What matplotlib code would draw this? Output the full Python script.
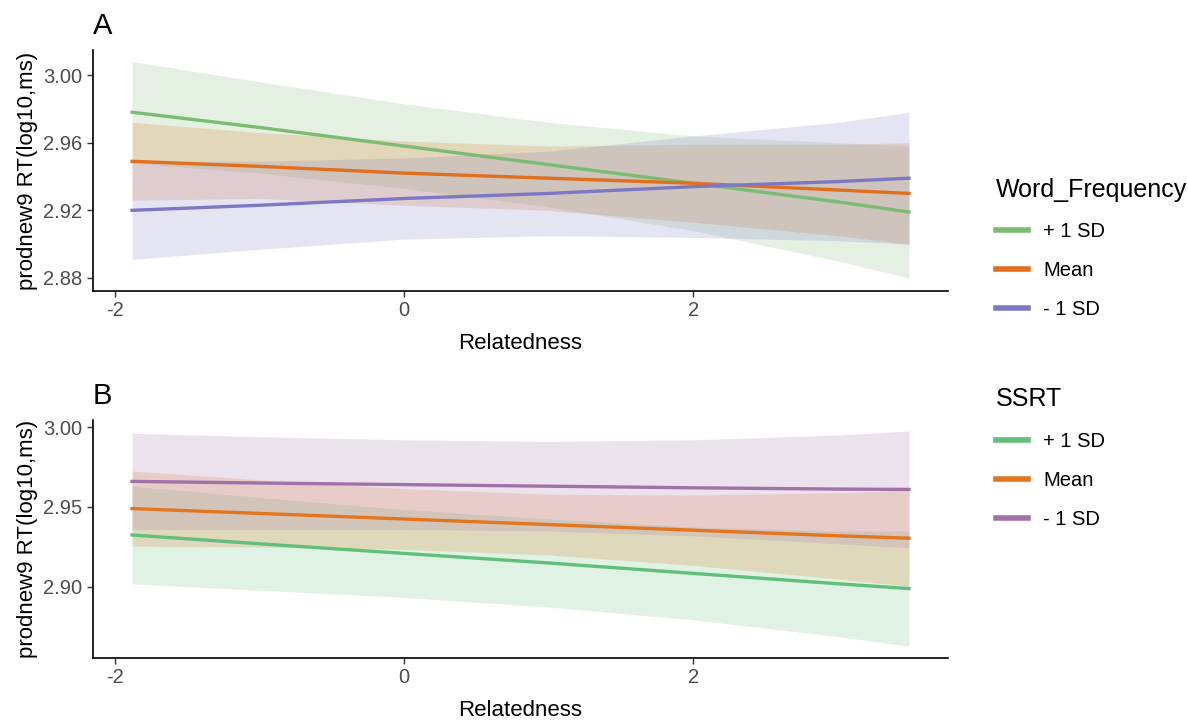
import matplotlib
matplotlib.use("Agg")
import matplotlib.pyplot as plt

plt.rcParams["font.family"] = ["Liberation Sans", "DejaVu Sans"]

# Relatedness values where the fitted lines are read
relatedness = [-1.88, -1, 0, 1, 2, 3, 3.49]
levels = ["+ 1 SD", "Mean", "- 1 SD"]

# Panel A: Word_Frequency
wf_fit = {
    "+ 1 SD": [2.978, 2.969, 2.958, 2.947, 2.936, 2.925, 2.919],
    "Mean": [2.949, 2.946, 2.942, 2.939, 2.936, 2.932, 2.930],
    "- 1 SD": [2.920, 2.923, 2.927, 2.930, 2.934, 2.937, 2.939],
}
wf_lo = {
    "+ 1 SD": [2.948, 2.942, 2.933, 2.922, 2.908, 2.890, 2.880],
    "Mean": [2.926, 2.927, 2.923, 2.920, 2.913, 2.905, 2.900],
    "- 1 SD": [2.891, 2.897, 2.903, 2.905, 2.904, 2.902, 2.900],
}
wf_hi = {
    "+ 1 SD": [3.008, 2.996, 2.983, 2.972, 2.964, 2.960, 2.958],
    "Mean": [2.972, 2.966, 2.961, 2.958, 2.959, 2.959, 2.960],
    "- 1 SD": [2.949, 2.949, 2.951, 2.955, 2.964, 2.972, 2.978],
}

# Panel B: SSRT
ssrt_fit = {
    "+ 1 SD": [2.9325, 2.927, 2.921, 2.915, 2.9085, 2.902, 2.899],
    "Mean": [2.949, 2.946, 2.9425, 2.939, 2.9355, 2.932, 2.9305],
    "- 1 SD": [2.966, 2.965, 2.964, 2.963, 2.962, 2.9612, 2.961],
}
ssrt_lo = {
    "+ 1 SD": [2.902, 2.898, 2.8935, 2.8875, 2.8795, 2.869, 2.863],
    "Mean": [2.9255, 2.925, 2.9235, 2.920, 2.9135, 2.905, 2.9005],
    "- 1 SD": [2.936, 2.936, 2.936, 2.935, 2.932, 2.927, 2.9245],
}
ssrt_hi = {
    "+ 1 SD": [2.963, 2.956, 2.9485, 2.9425, 2.9375, 2.935, 2.935],
    "Mean": [2.9725, 2.967, 2.9615, 2.958, 2.9575, 2.959, 2.9605],
    "- 1 SD": [2.996, 2.994, 2.992, 2.991, 2.992, 2.995, 2.9975],
}

colors_a = {"+ 1 SD": "#7cbc72", "Mean": "#e0701e", "- 1 SD": "#7d78c4"}
colors_b = {"+ 1 SD": "#62bf7a", "Mean": "#e2761e", "- 1 SD": "#a072a8"}

fig = plt.figure(figsize=(11.88, 7.2), dpi=100)
ax_a = fig.add_axes([0.0783, 0.5958, 0.7197, 0.3348])
ax_b = fig.add_axes([0.0783, 0.0861, 0.7197, 0.3306])


def panel(ax, fit, lo, hi, colors, yticks, ylim, title, letter, legend_y):
    for lev in levels:
        ax.fill_between(relatedness, lo[lev], hi[lev], color=colors[lev],
                        alpha=0.2, linewidth=0)
    for lev in levels:
        ax.plot(relatedness, fit[lev], color=colors[lev], lw=2.4, label=lev)
    ax.set_xlim(-2.15, 3.76)
    ax.set_ylim(*ylim)
    ax.set_xticks([-2, 0, 2])
    ax.set_xticklabels(["-2", "0", "2"])
    ax.set_yticks(yticks)
    ax.set_yticklabels(["%.2f" % v for v in yticks])
    ax.tick_params(labelsize=14.5, labelcolor="#4d4d4d", color="#333333",
                   length=4, width=1)
    for s in ["top", "right"]:
        ax.spines[s].set_visible(False)
    for s in ["left", "bottom"]:
        ax.spines[s].set_linewidth(1.2)
    ax.set_xlabel("Relatedness", fontsize=16, labelpad=9)
    ax.set_ylabel("prodnew9 RT(log10,ms)", fontsize=16, labelpad=4)
    ax.text(0.0, 1.1, letter, transform=ax.transAxes, fontsize=21,
            ha="left", va="center")
    leg = ax.legend(loc="upper left", bbox_to_anchor=(0.823, legend_y),
                    bbox_transform=fig.transFigure,
                    title=title, frameon=False, fontsize=14.5,
                    title_fontsize=18, handlelength=1.6, handletextpad=0.75,
                    labelspacing=1.0, alignment="left")
    for line in leg.get_lines():
        line.set_linewidth(4)


panel(ax_a, wf_fit, wf_lo, wf_hi, colors_a, [2.88, 2.92, 2.96, 3.00],
      (2.8723, 3.0148), "Word_Frequency", "A", 0.778)
panel(ax_b, ssrt_fit, ssrt_lo, ssrt_hi, colors_b, [2.90, 2.95, 3.00],
      (2.8556, 3.0044), "SSRT", "B", 0.487)

plt.savefig("out.png", dpi=100)
